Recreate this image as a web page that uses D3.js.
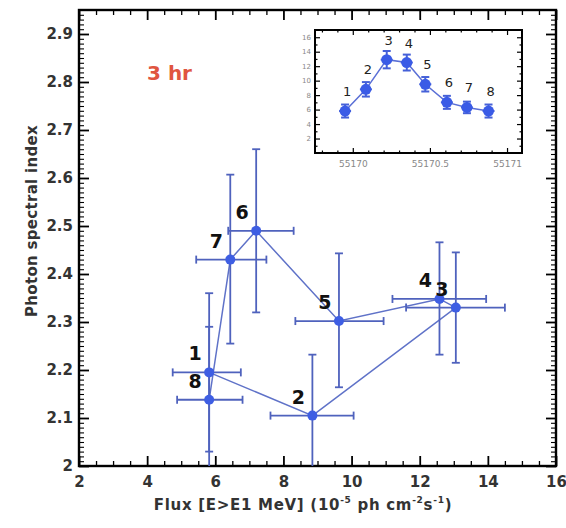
<!DOCTYPE html>
<html><head><meta charset="utf-8">
<script src="https://cdn.jsdelivr.net/npm/d3@7"></script>
<style>body{margin:0;background:#fff}svg{display:block}</style>
</head><body><script>
// ---- data ----
const pointLabels = ["1","2","3","4","5","6","7","8"];
const flux     = [5.82, 8.85, 13.06, 12.58, 9.63, 7.20, 6.44, 5.82];
const fluxLo   = [4.75, 7.62, 11.60, 11.20, 8.35, 6.38, 5.44, 4.88];
const fluxHi   = [6.75, 10.06, 14.50, 13.95, 10.94, 8.30, 7.50, 6.80];
const specIdx  = [2.195, 2.105, 2.330, 2.348, 2.302, 2.490, 2.430, 2.138];
const specLo   = [2.030, 1.950, 2.215, 2.232, 2.164, 2.320, 2.255, 1.950];
const specHi   = [2.360, 2.232, 2.445, 2.466, 2.443, 2.660, 2.607, 2.290];
const xTicks = [2,4,6,8,10,12,14,16];
const yTicks = [2,2.1,2.2,2.3,2.4,2.5,2.6,2.7,2.8,2.9];
const yTickLabels = ["2","2.1","2.2","2.3","2.4","2.5","2.6","2.7","2.8","2.9"];
// inset light curve
const insetTime = [55169.95, 55170.085, 55170.22, 55170.35, 55170.47, 55170.61, 55170.74, 55170.88];
const insetFlux = [5.8, 8.8, 12.9, 12.5, 9.5, 7.0, 6.3, 5.8];
const insetErr  = [0.9, 1.0, 1.2, 1.1, 1.0, 0.9, 0.8, 0.9];
const insetXTicks = [55170, 55170.5, 55171];
const insetXTickLabels = ["55170","55170.5","55171"];
const insetYTicks = [2,4,6,8,10,12,14,16];
const panelLabel = "3 hr";

// ---- layout ----
const W = 566, H = 528;
const FONT = "'DejaVu Sans', sans-serif";
const svg = d3.select("body").append("svg").attr("width", W).attr("height", H)
  .style("font-family", FONT);

const x = d3.scaleLinear().domain([2, 16]).range([79, 556]);
const y = d3.scaleLinear().domain([2, 2.95]).range([466, 10]);

const minorX = d3.range(2, 16.01, 0.5).filter(v => !xTicks.includes(v));
const minorY = d3.range(200, 295, 1).map(v => v / 100).filter(v => Math.round(v * 100) % 10 !== 0);

function styleAxis(g, w) {
  g.select(".domain").remove();
  g.selectAll(".tick line").attr("stroke", "#000").attr("stroke-width", w);
}
// major + minor ticks on four sides
const xb = svg.append("g").attr("transform", `translate(0,${y(2)})`)
  .call(d3.axisBottom(x).tickValues(xTicks).tickSize(-10).tickPadding(10).tickFormat(d3.format("d")));
styleAxis(xb, 1.8);
xb.selectAll("text").attr("font-size", 15).attr("font-weight", "bold").attr("fill", "#333").attr("font-family", FONT);
styleAxis(svg.append("g").attr("transform", `translate(0,${y(2)})`)
  .call(d3.axisBottom(x).tickValues(minorX).tickSize(-5).tickFormat("")), 1.3);
styleAxis(svg.append("g").attr("transform", `translate(0,${y(2.95)})`)
  .call(d3.axisTop(x).tickValues(xTicks).tickSize(-10).tickFormat("")), 1.8);
styleAxis(svg.append("g").attr("transform", `translate(0,${y(2.95)})`)
  .call(d3.axisTop(x).tickValues(minorX).tickSize(-5).tickFormat("")), 1.3);

const yl = svg.append("g").attr("transform", `translate(${x(2)},0)`)
  .call(d3.axisLeft(y).tickValues(yTicks).tickSize(-10).tickPadding(6).tickFormat((d, i) => yTickLabels[i]));
styleAxis(yl, 1.8);
yl.selectAll("text").attr("font-size", 15).attr("font-weight", "bold").attr("fill", "#333").attr("font-family", FONT);
styleAxis(svg.append("g").attr("transform", `translate(${x(2)},0)`)
  .call(d3.axisLeft(y).tickValues(minorY).tickSize(-5).tickFormat("")), 1.1);
styleAxis(svg.append("g").attr("transform", `translate(${x(16)},0)`)
  .call(d3.axisRight(y).tickValues(yTicks).tickSize(-10).tickFormat("")), 1.8);
styleAxis(svg.append("g").attr("transform", `translate(${x(16)},0)`)
  .call(d3.axisRight(y).tickValues(minorY).tickSize(-5).tickFormat("")), 1.1);

svg.append("rect").attr("x", x(2)).attr("y", y(2.95))
  .attr("width", x(16) - x(2)).attr("height", y(2) - y(2.95))
  .attr("fill", "none").attr("stroke", "#000").attr("stroke-width", 2.4);

// axis titles
const xt = svg.append("text").attr("x", 303).attr("y", 510).attr("text-anchor", "middle")
  .attr("font-size", 15).attr("font-weight", "bold").attr("fill", "#333").attr("letter-spacing", 0.7);
xt.append("tspan").text("Flux [E>E1 MeV] (10");
xt.append("tspan").attr("font-size", 9).attr("dy", -7).text("-5");
xt.append("tspan").attr("dy", 7).text(" ph cm");
xt.append("tspan").attr("font-size", 9).attr("dy", -7).text("-2");
xt.append("tspan").attr("dy", 7).text("s");
xt.append("tspan").attr("font-size", 9).attr("dy", -7).text("-1");
xt.append("tspan").attr("dy", 7).text(")");

svg.append("text").attr("transform", "translate(37,221) rotate(-90)").attr("text-anchor", "middle")
  .attr("font-size", 15).attr("font-weight", "bold").attr("fill", "#333").attr("letter-spacing", 0.3)
  .text("Photon spectral index");

svg.append("text").attr("x", 147).attr("y", 80).attr("font-size", 20).attr("font-weight", "bold")
  .attr("fill", "#e0553f").text(panelLabel);

// ---- main data ----
svg.append("clipPath").attr("id", "plotclip").append("rect")
  .attr("x", x(2)).attr("y", y(2.95)).attr("width", x(16) - x(2)).attr("height", y(2) - y(2.95));
const plot = svg.append("g").attr("clip-path", "url(#plotclip)");
const idx = d3.range(flux.length);
const barColor = "#4f62bd", lineColor = "#5f72c8", dotColor = "#3e5ee3";

plot.append("path").datum(idx)
  .attr("d", d3.line().x(i => x(flux[i])).y(i => y(specIdx[i])))
  .attr("fill", "none").attr("stroke", lineColor).attr("stroke-width", 1.5);

const eb = plot.selectAll("g.eb").data(idx).join("g").attr("class", "eb")
  .attr("stroke", barColor).attr("stroke-width", 1.8);
eb.append("line").attr("x1", i => x(flux[i])).attr("x2", i => x(flux[i]))
  .attr("y1", i => y(specLo[i])).attr("y2", i => y(specHi[i]));
eb.append("line").attr("x1", i => x(fluxLo[i])).attr("x2", i => x(fluxHi[i]))
  .attr("y1", i => y(specIdx[i])).attr("y2", i => y(specIdx[i]));
eb.append("line").attr("x1", i => x(flux[i]) - 4).attr("x2", i => x(flux[i]) + 4)
  .attr("y1", i => y(specHi[i])).attr("y2", i => y(specHi[i]));
eb.append("line").attr("x1", i => x(flux[i]) - 4).attr("x2", i => x(flux[i]) + 4)
  .attr("y1", i => y(specLo[i])).attr("y2", i => y(specLo[i]));
eb.append("line").attr("x1", i => x(fluxLo[i])).attr("x2", i => x(fluxLo[i]))
  .attr("y1", i => y(specIdx[i]) - 4).attr("y2", i => y(specIdx[i]) + 4);
eb.append("line").attr("x1", i => x(fluxHi[i])).attr("x2", i => x(fluxHi[i]))
  .attr("y1", i => y(specIdx[i]) - 4).attr("y2", i => y(specIdx[i]) + 4);

plot.selectAll("circle.pt").data(idx).join("circle").attr("class", "pt")
  .attr("cx", i => x(flux[i])).attr("cy", i => y(specIdx[i])).attr("r", 5).attr("fill", dotColor);

svg.selectAll("text.pl").data(idx).join("text").attr("class", "pl")
  .attr("x", i => x(flux[i]) - 14).attr("y", i => y(specIdx[i]) - 12)
  .attr("text-anchor", "middle").attr("font-size", 19).attr("font-weight", "bold")
  .attr("fill", "#111").text(i => pointLabels[i]);

// ---- inset ----
const ix = d3.scaleLinear().domain([55169.755, 55171.097]).range([315, 522]);
const iy = d3.scaleLinear().domain([0, 17]).range([153, 30]);
const inset = svg.append("g");
inset.append("rect").attr("x", 315).attr("y", 30).attr("width", 207).attr("height", 123).attr("fill", "#fff");

const ixMinor = d3.range(55169.8, 55171.05, 0.1).filter(v => !insetXTicks.some(t => Math.abs(t - v) < 1e-6));
const iyMinor = d3.range(1, 17, 2);
function insetAxis(axis, tr, vals, size) {
  const g = inset.append("g").attr("transform", tr).call(axis.tickValues(vals).tickSize(size).tickFormat(""));
  styleAxis(g, 1.2);
  return g;
}
insetAxis(d3.axisTop(ix), `translate(0,${iy(17)})`, insetXTicks, -5);
insetAxis(d3.axisTop(ix), `translate(0,${iy(17)})`, ixMinor, -2.5);
insetAxis(d3.axisBottom(ix), `translate(0,${iy(0)})`, ixMinor, -2.5);
insetAxis(d3.axisRight(iy), `translate(${ix.range()[1]},0)`, insetYTicks, -5);
insetAxis(d3.axisRight(iy), `translate(${ix.range()[1]},0)`, iyMinor, -2.5);
insetAxis(d3.axisLeft(iy), `translate(${ix.range()[0]},0)`, iyMinor, -2.5);

const ixb = inset.append("g").attr("transform", `translate(0,${iy(0)})`)
  .call(d3.axisBottom(ix).tickValues(insetXTicks).tickSize(-5).tickPadding(8).tickFormat((d, i) => insetXTickLabels[i]));
styleAxis(ixb, 1.2);
ixb.selectAll("text").attr("font-size", 9).attr("fill", "#888").attr("font-family", FONT);
const iyl = inset.append("g").attr("transform", `translate(${ix.range()[0]},0)`)
  .call(d3.axisLeft(iy).tickValues(insetYTicks).tickSize(-5).tickPadding(4).tickFormat(d3.format("d")));
styleAxis(iyl, 1.2);
iyl.selectAll("text").attr("font-size", 7).attr("fill", "#888").attr("font-family", FONT);

inset.append("rect").attr("x", 315).attr("y", 30).attr("width", 207).attr("height", 123)
  .attr("fill", "none").attr("stroke", "#000").attr("stroke-width", 2);

inset.append("path").datum(idx)
  .attr("d", d3.line().x(i => ix(insetTime[i])).y(i => iy(insetFlux[i])))
  .attr("fill", "none").attr("stroke", "#5a6fd6").attr("stroke-width", 1.5);
const ieb = inset.selectAll("g.ieb").data(idx).join("g").attr("class", "ieb")
  .attr("stroke", "#4560d8").attr("stroke-width", 2);
ieb.append("line").attr("x1", i => ix(insetTime[i])).attr("x2", i => ix(insetTime[i]))
  .attr("y1", i => iy(insetFlux[i] - insetErr[i])).attr("y2", i => iy(insetFlux[i] + insetErr[i]));
ieb.append("line").attr("x1", i => ix(insetTime[i]) - 4).attr("x2", i => ix(insetTime[i]) + 4)
  .attr("y1", i => iy(insetFlux[i] + insetErr[i])).attr("y2", i => iy(insetFlux[i] + insetErr[i]));
ieb.append("line").attr("x1", i => ix(insetTime[i]) - 4).attr("x2", i => ix(insetTime[i]) + 4)
  .attr("y1", i => iy(insetFlux[i] - insetErr[i])).attr("y2", i => iy(insetFlux[i] - insetErr[i]));
ieb.append("line").attr("x1", i => ix(insetTime[i]) - 6).attr("x2", i => ix(insetTime[i]) + 6)
  .attr("y1", i => iy(insetFlux[i])).attr("y2", i => iy(insetFlux[i]));
inset.selectAll("circle.ip").data(idx).join("circle").attr("class", "ip")
  .attr("cx", i => ix(insetTime[i])).attr("cy", i => iy(insetFlux[i])).attr("r", 5.5).attr("fill", "#3a5be6");
inset.selectAll("text.il").data(idx).join("text").attr("class", "il")
  .attr("x", i => ix(insetTime[i]) + 2).attr("y", i => iy(insetFlux[i]) - 15)
  .attr("text-anchor", "middle").attr("font-size", 13).attr("fill", "#222").text(i => pointLabels[i]);
</script></body></html>
